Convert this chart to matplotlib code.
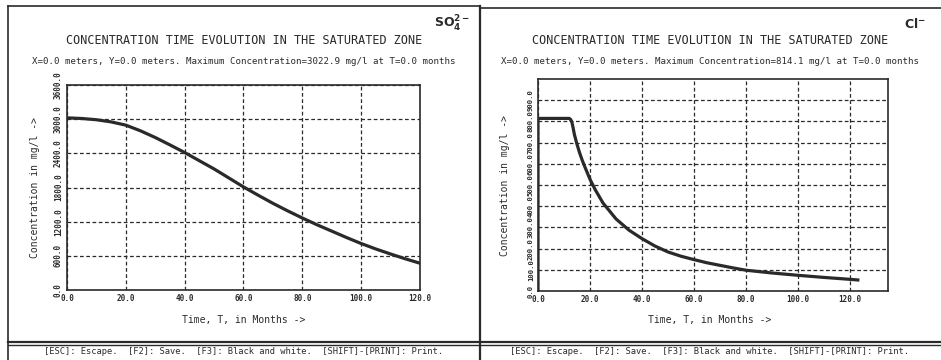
import matplotlib.pyplot as plt
from matplotlib.lines import Line2D

plt.rcParams['font.family'] = 'DejaVu Sans Mono'

# sulfate (left panel)
so4_t = [0, 5, 10, 15, 20, 25, 30, 35, 40, 45, 50, 55, 60, 65, 70, 75, 80, 85, 90, 95,
         100, 105, 110, 115, 120]
so4_c = [3022.9, 3012, 2990, 2952, 2895, 2795, 2678, 2548, 2414, 2270, 2126, 1968, 1810,
         1664, 1522, 1390, 1264, 1145, 1034, 922, 816, 720, 632, 548, 470]

# chloride (right panel)
cl_t = [0, 0, 12, 12.5, 13, 13.5, 14, 15, 16, 17, 18, 20, 22, 25, 30, 35, 40, 45, 50,
        55, 60, 65, 70, 75, 80, 90, 100, 110, 120, 123]
cl_c = [0, 814.1, 814.1, 810, 798, 770, 738, 692, 652, 617, 586, 527, 478, 415, 340,
        287, 247, 212, 184, 164, 148, 133, 121, 109, 98, 85, 74, 64, 55, 52]

so4_yticks = [0, 600, 1200, 1800, 2400, 3000, 3600]
cl_yticks = [0, 100, 200, 300, 400, 500, 600, 700, 800, 900]
xticks = [0, 20, 40, 60, 80, 100, 120]

title = 'CONCENTRATION TIME EVOLUTION IN THE SATURATED ZONE'
sub_so4 = 'X=0.0 meters, Y=0.0 meters. Maximum Concentration=3022.9 mg/l at T=0.0 months'
sub_cl = 'X=0.0 meters, Y=0.0 meters. Maximum Concentration=814.1 mg/l at T=0.0 months'
footer = '[ESC]: Escape.  [F2]: Save.  [F3]: Black and white.  [SHIFT]-[PRINT]: Print.'

W, H = 941, 360
ink = '#2a2a2a'
fig = plt.figure(figsize=(W / 100, H / 100), dpi=100)

# background layer in pixel coordinates
bg = fig.add_axes([0, 0, 1, 1])
bg.set_xlim(0, W)
bg.set_ylim(H, 0)
bg.axis('off')
for xs, ys, lw in [([8, 8], [6, 360], 1.2), ([480, 480], [6, 360], 1.6),
                   ([8, 480], [6, 6], 1.2), ([480, 941], [8, 8], 1.2),
                   ([8, 941], [342, 342], 1.6), ([8, 941], [345, 345], 1.0)]:
    bg.add_line(Line2D(xs, ys, color=ink, lw=lw))


def panel(px, ts, cs, yticks, ymax, xmax, cx, sub, ion, ionx, ylab_x, tick_fs):
    l, r, t, b = px
    ax = fig.add_axes([l / W, 1 - b / H, (r - l) / W, (b - t) / H])
    ax.plot(ts, cs, color=ink, lw=2.3, solid_joinstyle='round')
    ax.set_xlim(0, xmax)
    ax.set_ylim(0, ymax)
    ax.set_xticks(xticks)
    ax.set_xticklabels(['%.1f' % v for v in xticks], fontsize=5.5, fontweight='bold', color=ink)
    ax.set_yticks(yticks)
    ax.set_yticklabels(['%.1f' % v for v in yticks], fontsize=tick_fs, fontweight='bold',
                       color=ink, rotation=90, va='center')
    ax.tick_params(length=0, pad=3)
    ax.grid(True, color=ink, lw=0.9, linestyle=(0, (3, 2)))
    for s in ax.spines.values():
        s.set_color(ink)
        s.set_linewidth(1.2)
    bg.text(cx, 40, title, ha='center', va='center', fontsize=8.5, color=ink)
    bg.text(cx, 62, sub, ha='center', va='center', fontsize=6.6, color=ink)
    bg.text(cx, 320, 'Time, T, in Months ->', ha='center', va='center', fontsize=7, color=ink)
    bg.text(ylab_x, (t + b) / 2, 'Concentration in mg/l ->', ha='center', va='center',
            rotation=90, fontsize=7, color=ink)
    bg.text(ionx, 24, ion, ha='center', va='center', fontsize=9, fontweight='bold', color=ink)
    bg.text(cx, 352, footer, ha='center', va='center', fontsize=6.3, color=ink)
    return ax


panel((67, 420, 85, 290), so4_t, so4_c, so4_yticks, 3600, 120, 244, sub_so4,
      r'$\mathbf{SO_4^{2-}}$', 452, 35, 5.5)
panel((538, 888, 79, 291), cl_t, cl_c, cl_yticks, 1000, 134.6, 710, sub_cl,
      r'$\mathbf{Cl^{-}}$', 915, 505, 5.2)

fig.savefig('out.png', dpi=100, facecolor='white')
